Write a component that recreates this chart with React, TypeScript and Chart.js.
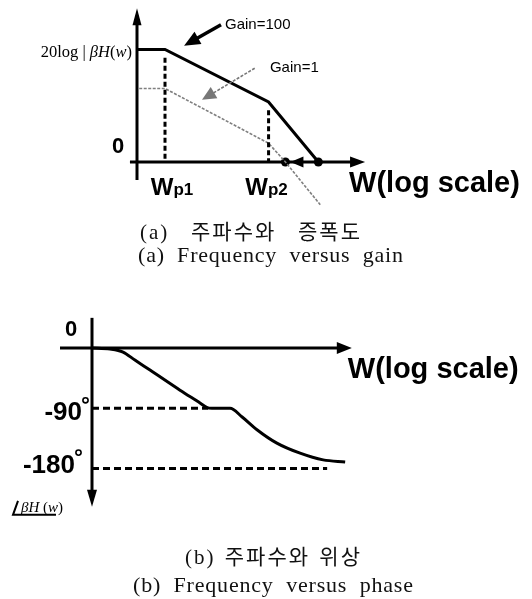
import React, { useEffect, useLayoutEffect, useRef } from "react";
import { Chart, registerables } from "chart.js";

Chart.register(...registerables);

// ---------- (a) loop-gain magnitude: ω (rad/s, log axis) vs 20log|βH(ω)| in dB ----------
const WP1 = 10;
const WP2 = 5e4;

const gain100Omega = [1, WP1, WP2, 3e6];
const gain100Db = [150, 150, 80, 0];

const gain1Omega = [1.2, WP1, WP2, 2e5, 3.5e6];
const gain1Db = [98, 98, 25, 0, -57];

const poleOmega = [WP1, WP2];
const poleGuideTopDb = [139, 69];
const poleLabels = ["p1", "p2"];

// 0 dB crossings: Gain=1, Gain=100
const crossOmega = [2e5, 3e6];

const magTickLabel = "0";
const gainLabels = ["Gain=100", "Gain=1"];

// ---------- (b) phase ∠βH(ω) in degrees ----------
const phaseOmega = [1, 4.4, 12.8, 34, 118, 1390, 7200, 1.3e4, 1.9e4, 8.5e4, 2.3e5, 7.8e5, 4e6, 2.7e7, 1.8e8, 1.1e9];
const phaseDeg = [0, -1.5, -6, -18, -33, -63, -82, -89, -90, -90, -103, -122, -142, -157, -167, -170];
const phaseGuideDeg = [-90, -180];
const phaseGuideEndOmega = [1.4e4, 2.5e8];
const phaseTickLabels = ["0", "-90", "-180"];

const axisTitle = "W(log scale)";
const captionsA = ["(a) 주파수와 증폭도", "(a) Frequency versus gain"];
const captionsB = ["(b) 주파수와 위상", "(b) Frequency versus phase"];

// Axis extents (value space) for the hand-drawn arrows
const MAG_AXIS = { xFrom: 0.56, xTo: 1.4e8, yFrom: -24, yTo: 205 };
const PHASE_AXIS = { xFrom: 0.072, xTo: 1.9e9, yFrom: 45, yTo: -237 };

const SANS = '"Liberation Sans", Arial, sans-serif';
const SERIF = '"Liberation Serif", "Times New Roman", serif';
const CAPTION_FONT = '"Liberation Serif", "Noto Sans CJK KR", serif';

const zip = (xs: number[], ys: number[]) => xs.map((x, i) => ({ x, y: ys[i] }));

type Run = { t: string; font: string };

function drawRuns(ctx: CanvasRenderingContext2D, runs: Run[], x: number, y: number, align: "left" | "right" | "center") {
  let w = 0;
  for (const r of runs) {
    ctx.font = r.font;
    w += ctx.measureText(r.t).width;
  }
  let cx = align === "left" ? x : align === "right" ? x - w : x - w / 2;
  ctx.textAlign = "left";
  for (const r of runs) {
    ctx.font = r.font;
    ctx.fillText(r.t, cx, y);
    cx += ctx.measureText(r.t).width;
  }
}

function arrowHead(ctx: CanvasRenderingContext2D, tx: number, ty: number, fx: number, fy: number, len: number, half: number, color: string) {
  const a = Math.atan2(ty - fy, tx - fx);
  const bx = tx - len * Math.cos(a);
  const by = ty - len * Math.sin(a);
  ctx.save();
  ctx.fillStyle = color;
  ctx.beginPath();
  ctx.moveTo(tx, ty);
  ctx.lineTo(bx + half * Math.sin(a), by - half * Math.cos(a));
  ctx.lineTo(bx - half * Math.sin(a), by + half * Math.cos(a));
  ctx.closePath();
  ctx.fill();
  ctx.restore();
}

function segment(ctx: CanvasRenderingContext2D, x1: number, y1: number, x2: number, y2: number) {
  ctx.beginPath();
  ctx.moveTo(x1, y1);
  ctx.lineTo(x2, y2);
  ctx.stroke();
}

function shortened(x1: number, y1: number, x2: number, y2: number, cut: number) {
  const d = Math.hypot(x2 - x1, y2 - y1);
  return [x2 - ((x2 - x1) * cut) / d, y2 - ((y2 - y1) * cut) / d];
}

const magnitudeDecor = {
  id: "magnitudeDecor",
  beforeDatasetsDraw(chart: any) {
    const { ctx, scales } = chart;
    const px = (v: number) => scales.x.getPixelForValue(v);
    const py = (v: number) => scales.y.getPixelForValue(v);
    const ox = px(1);
    const oy = py(0);
    ctx.save();
    ctx.strokeStyle = "#000";
    ctx.lineWidth = 3;
    // vertical axis with upward arrow
    segment(ctx, ox, py(MAG_AXIS.yFrom), ox, py(MAG_AXIS.yTo) + 14);
    arrowHead(ctx, ox, py(MAG_AXIS.yTo), ox, oy, 17, 4.5, "#000");
    // frequency axis with right arrow
    segment(ctx, px(MAG_AXIS.xFrom), oy, px(MAG_AXIS.xTo) - 12, oy);
    arrowHead(ctx, px(MAG_AXIS.xTo), oy, ox, oy, 15, 5.5, "#000");
    ctx.restore();
  },
  afterDatasetsDraw(chart: any) {
    const { ctx, scales } = chart;
    const px = (v: number) => scales.x.getPixelForValue(v);
    const py = (v: number) => scales.y.getPixelForValue(v);
    const ox = px(1);
    const oy = py(0);
    ctx.save();
    ctx.fillStyle = "#000";
    ctx.textBaseline = "middle";

    // crossover moves left: arrow from Gain=100 crossing toward Gain=1 crossing
    arrowHead(ctx, px(crossOmega[0]) + 5, oy, px(crossOmega[1]), oy, 13, 5.5, "#000");

    // Gain=100 pointer
    const g100Tail = [px(1000), py(183)];
    const g100Tip = [px(48), py(155)];
    ctx.strokeStyle = "#000";
    ctx.lineWidth = 3.5;
    const [s1x, s1y] = shortened(g100Tail[0], g100Tail[1], g100Tip[0], g100Tip[1], 12);
    segment(ctx, g100Tail[0], g100Tail[1], s1x, s1y);
    arrowHead(ctx, g100Tip[0], g100Tip[1], g100Tail[0], g100Tail[1], 16, 7, "#000");
    ctx.font = `15px ${SANS}`;
    ctx.textAlign = "left";
    ctx.fillText(gainLabels[0], px(1390), py(183));

    // Gain=1 pointer
    const g1Tail = [px(1.6e4), py(125)];
    const g1Tip = [px(210), py(83)];
    ctx.strokeStyle = "#777";
    ctx.lineWidth = 1.6;
    ctx.setLineDash([3, 1.5]);
    const [s2x, s2y] = shortened(g1Tail[0], g1Tail[1], g1Tip[0], g1Tip[1], 10);
    segment(ctx, g1Tail[0], g1Tail[1], s2x, s2y);
    ctx.setLineDash([]);
    arrowHead(ctx, g1Tip[0], g1Tip[1], g1Tail[0], g1Tail[1], 14, 6.5, "#777");
    ctx.fillStyle = "#000";
    ctx.font = `15px ${SANS}`;
    ctx.fillText(gainLabels[1], px(5.6e4), py(125));

    // "0" dB tick
    ctx.textAlign = "center";
    ctx.font = `bold 22px ${SANS}`;
    ctx.fillText(magTickLabel, ox - 19, oy - 15);

    // vertical quantity
    const reg = `16.5px ${SERIF}`;
    const ita = `italic 16.5px ${SERIF}`;
    drawRuns(
      ctx,
      [
        { t: "20log", font: reg },
        { t: " | ", font: reg },
        { t: "βH", font: ita },
        { t: "(", font: reg },
        { t: "w", font: ita },
        { t: ")", font: reg },
      ],
      ox - 5,
      py(gain100Db[0]) + 3,
      "right"
    );

    // pole labels
    ctx.textBaseline = "alphabetic";
    const poleShift = [7, -2];
    poleOmega.forEach((w, i) => {
      drawRuns(
        ctx,
        [
          { t: "W", font: `bold 24px ${SANS}` },
          { t: poleLabels[i], font: `bold 17px ${SANS}` },
        ],
        px(w) + poleShift[i],
        oy + 33,
        "center"
      );
    });

    ctx.textBaseline = "middle";
    ctx.textAlign = "left";
    ctx.font = `bold 29px ${SANS}`;
    ctx.fillText(axisTitle, px(MAG_AXIS.xTo) - 16, oy + 22);
    ctx.restore();
  },
};

const phaseDecor = {
  id: "phaseDecor",
  beforeDatasetsDraw(chart: any) {
    const { ctx, scales } = chart;
    const px = (v: number) => scales.x.getPixelForValue(v);
    const py = (v: number) => scales.y.getPixelForValue(v);
    const ox = px(1);
    const oy = py(0);
    ctx.save();
    ctx.strokeStyle = "#000";
    ctx.lineWidth = 3;
    segment(ctx, ox, py(PHASE_AXIS.yFrom), ox, py(PHASE_AXIS.yTo) - 14);
    arrowHead(ctx, ox, py(PHASE_AXIS.yTo), ox, oy, 17, 5, "#000");
    segment(ctx, px(PHASE_AXIS.xFrom), oy, px(PHASE_AXIS.xTo) - 12, oy);
    arrowHead(ctx, px(PHASE_AXIS.xTo), oy, ox, oy, 15, 6, "#000");
    ctx.restore();
  },
  afterDatasetsDraw(chart: any) {
    const { ctx, scales } = chart;
    const px = (v: number) => scales.x.getPixelForValue(v);
    const py = (v: number) => scales.y.getPixelForValue(v);
    const ox = px(1);
    const oy = py(0);
    ctx.save();
    ctx.fillStyle = "#000";
    ctx.strokeStyle = "#000";
    ctx.textBaseline = "middle";

    ctx.textAlign = "center";
    ctx.font = `bold 22px ${SANS}`;
    ctx.fillText(phaseTickLabels[0], ox - 21, oy - 18);

    // degree ticks with small ring for the degree sign
    const rightEdge = [ox - 10, ox - 17];
    const textShift = [5, -3];
    phaseGuideDeg.forEach((d, i) => {
      ctx.textAlign = "right";
      ctx.font = `bold 26px ${SANS}`;
      const yMid = py(d) + textShift[i];
      ctx.fillText(phaseTickLabels[i + 1], rightEdge[i], yMid);
      ctx.lineWidth = 1.6;
      ctx.beginPath();
      ctx.arc(rightEdge[i] + 3.5, yMid - 13, 2.6, 0, Math.PI * 2);
      ctx.stroke();
    });

    ctx.textAlign = "left";
    ctx.font = `bold 29px ${SANS}`;
    ctx.fillText(axisTitle, px(PHASE_AXIS.xTo) - 4, oy + 22);

    // angle symbol with underline, then βH(w)
    const base = py(PHASE_AXIS.yTo) + 6;
    ctx.lineWidth = 2;
    ctx.beginPath();
    ctx.moveTo(ox - 74, base - 12);
    ctx.lineTo(ox - 79, base + 2);
    ctx.lineTo(ox - 36, base + 2);
    ctx.stroke();
    ctx.textBaseline = "alphabetic";
    drawRuns(
      ctx,
      [
        { t: "βH", font: `italic 15px ${SERIF}` },
        { t: " (", font: `15px ${SERIF}` },
        { t: "w", font: `italic 15px ${SERIF}` },
        { t: ")", font: `15px ${SERIF}` },
      ],
      ox - 71,
      base - 1,
      "left"
    );
    ctx.restore();
  },
};

const baseOptions = (padding: any, xRange: number[], yRange: number[]) => ({
  responsive: false,
  animation: false as const,
  events: [] as any[],
  layout: { padding },
  plugins: { legend: { display: false }, tooltip: { enabled: false } },
  scales: {
    x: { type: "logarithmic" as const, min: xRange[0], max: xRange[1], display: false },
    y: { type: "linear" as const, min: yRange[0], max: yRange[1], display: false },
  },
});

// Caption line: fixed tracking, word gaps stretched so the line spans `width`.
function Caption({ text, left, width, mid, size, tracking }: { text: string; left: number; width: number; mid: number; size: number; tracking: number }) {
  const ref = useRef<HTMLSpanElement>(null);
  useLayoutEffect(() => {
    const el = ref.current;
    if (!el) return;
    el.style.wordSpacing = "0px";
    const natural = el.getBoundingClientRect().width - tracking;
    const gaps = (text.match(/ /g) || []).length || 1;
    el.style.wordSpacing = `${Math.max(0, (width - natural) / gaps)}px`;
  }, [text, width, tracking]);
  return (
    <span
      ref={ref}
      style={{
        position: "absolute",
        left,
        top: mid - size * 0.6,
        fontSize: size,
        lineHeight: `${size * 1.2}px`,
        letterSpacing: `${tracking}px`,
        whiteSpace: "nowrap",
        fontFamily: CAPTION_FONT,
        color: "#111",
      }}
    >
      {text}
    </span>
  );
}

export default function App() {
  const magRef = useRef<HTMLCanvasElement>(null);
  const phaseRef = useRef<HTMLCanvasElement>(null);

  useEffect(() => {
    const mag = new Chart(magRef.current as HTMLCanvasElement, {
      type: "scatter",
      data: {
        datasets: [
          ...poleOmega.map((w, i) => ({
            label: `W${poleLabels[i]}`,
            data: [
              { x: w, y: poleGuideTopDb[i] },
              { x: w, y: 0 },
            ],
            showLine: true,
            borderColor: "#000",
            borderWidth: 3,
            borderDash: [5, 3],
            pointRadius: 0,
            clip: false,
          })),
          {
            label: gainLabels[1],
            data: zip(gain1Omega, gain1Db),
            showLine: true,
            borderColor: "#7f7f7f",
            borderWidth: 1.6,
            borderDash: [3, 1.5],
            pointRadius: 0,
            clip: false,
          },
          {
            label: gainLabels[0],
            data: zip(gain100Omega, gain100Db),
            showLine: true,
            borderColor: "#000",
            borderWidth: 3,
            pointRadius: 0,
            clip: false,
          },
          {
            label: "0 dB crossings",
            data: crossOmega.map((x) => ({ x, y: 0 })),
            showLine: false,
            pointRadius: 4.5,
            pointBackgroundColor: "#000",
            pointBorderWidth: 0,
            clip: false,
          },
        ],
      },
      options: baseOptions({ left: 137, right: 171, top: 4.5, bottom: 89.25 }, [1, 1e8], [-25, 210]) as any,
      plugins: [magnitudeDecor],
    });

    const phase = new Chart(phaseRef.current as HTMLCanvasElement, {
      type: "scatter",
      data: {
        datasets: [
          ...phaseGuideDeg.map((d, i) => ({
            label: `${d}°`,
            data: [
              { x: 1, y: d },
              { x: phaseGuideEndOmega[i], y: d },
            ],
            showLine: true,
            borderColor: "#000",
            borderWidth: 3,
            borderDash: [7, 4],
            pointRadius: 0,
            clip: false,
          })),
          {
            label: "phase",
            data: zip(phaseOmega, phaseDeg),
            showLine: true,
            borderColor: "#000",
            borderWidth: 3,
            cubicInterpolationMode: "monotone" as const,
            pointRadius: 0,
            clip: false,
          },
        ],
      },
      options: baseOptions({ left: 92, right: 188, top: 37.8, bottom: 83.5 }, [1, 1e9], [-250, 60]) as any,
      plugins: [phaseDecor],
    });

    return () => {
      mag.destroy();
      phase.destroy();
    };
  }, []);

  return (
    <div style={{ position: "absolute", left: 0, top: 0, width: 532, height: 599, background: "#fff", overflow: "hidden" }}>
      <canvas ref={magRef} width={532} height={270} style={{ position: "absolute", left: 0, top: 0 }} />
      <canvas ref={phaseRef} width={532} height={329} style={{ position: "absolute", left: 0, top: 270 }} />
      <Caption text={captionsA[0]} left={140} width={220} mid={233} size={21} tracking={2} />
      <Caption text={captionsA[1]} left={138} width={265} mid={255} size={22} tracking={0.8} />
      <Caption text={captionsB[0]} left={185} width={175} mid={558} size={21} tracking={2} />
      <Caption text={captionsB[1]} left={133} width={280} mid={585} size={22} tracking={0.8} />
    </div>
  );
}
